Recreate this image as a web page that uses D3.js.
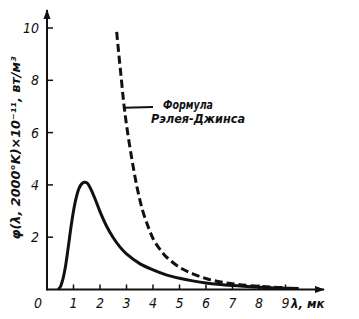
<!DOCTYPE html>
<html><head><meta charset="utf-8">
<script src="https://cdn.jsdelivr.net/npm/d3@7"></script>
<style>
html,body{margin:0;padding:0;background:#fff;}
text{font-family:"Liberation Sans Narrow","DejaVu Sans Condensed","Liberation Sans",sans-serif;font-style:italic;fill:#111;}
</style></head><body>
<script>
// Planck curve at 2000°K (solid)
const planckLambda = [0.42,0.5,0.6,0.7,0.8,0.9,1.0,1.1,1.2,1.3,1.4,1.5,1.6,1.8,2.0,2.25,2.5,2.75,3.0,3.5,4.0,4.5,5.0,5.5,6.0,7.0,8.0,9.0,9.5];
const planckValue  = [0,0.1,0.4,0.9,1.6,2.35,3.0,3.5,3.85,4.03,4.1,4.08,3.95,3.5,2.98,2.42,1.98,1.63,1.36,0.99,0.75,0.56,0.43,0.33,0.25,0.15,0.09,0.05,0.035];
// Rayleigh-Jeans formula (dashed)
const rjLambda = [2.63,2.7,2.8,2.9,3.0,3.2,3.4,3.6,3.8,4.0,4.25,4.5,5.0,5.5,6.0,6.5,7.0,7.5,8.0,8.5,9.0];
const rjValue  = [9.85,9.1,8.1,7.1,6.3,5.0,3.9,3.05,2.45,1.95,1.55,1.25,0.85,0.6,0.42,0.3,0.22,0.16,0.12,0.09,0.07];
const xTicks = [1,2,3,4,5,6,7,8,9];
const yTicks = [2,4,6,8,10];
const xTitle = "λ, мк";
const yTitle = "φ(λ, 2000°K)×10⁻¹¹, вт/м³";
const noteLines = ["Формула","Рэлея-Джинса"];

const W=359,H=319;
const svg=d3.select("body").append("svg").attr("width",W).attr("height",H);
const x=d3.scaleLinear().domain([0,10]).range([47,312]);
const y=d3.scaleLinear().domain([0,10]).range([289.5,28]);

// axes lines with arrows
svg.append("defs").append("marker").attr("id","arr").attr("viewBox","0 0 10 10")
  .attr("refX",9).attr("refY",5).attr("markerWidth",5).attr("markerHeight",5).attr("orient","auto")
  .append("path").attr("d","M0,1.5L10,5L0,8.5z").attr("fill","#111");
svg.append("line").attr("x1",x(0)).attr("y1",y(0)).attr("x2",324).attr("y2",y(0))
  .attr("stroke","#111").attr("stroke-width",2).attr("marker-end","url(#arr)");
svg.append("line").attr("x1",x(0)).attr("y1",y(0)+1).attr("x2",x(0)).attr("y2",10)
  .attr("stroke","#111").attr("stroke-width",2).attr("marker-end","url(#arr)");

// ticks
svg.selectAll(".xt").data(xTicks).enter().append("line")
  .attr("x1",d=>x(d)).attr("x2",d=>x(d)).attr("y1",y(0)).attr("y2",y(0)-5)
  .attr("stroke","#111").attr("stroke-width",1.5);
svg.selectAll(".yt").data(yTicks).enter().append("line")
  .attr("x1",x(0)).attr("x2",x(0)+6).attr("y1",d=>y(d)).attr("y2",d=>y(d))
  .attr("stroke","#111").attr("stroke-width",1.5);

// tick labels
svg.selectAll(".xl").data(xTicks).enter().append("text")
  .attr("x",d=>x(d)).attr("y",308).attr("text-anchor","middle")
  .attr("font-size",14).text(d=>d);
svg.append("text").attr("x",38).attr("y",308).attr("text-anchor","middle").attr("font-size",14).text("0");
svg.selectAll(".yl").data(yTicks).enter().append("text")
  .attr("x",39).attr("y",d=>y(d)+5).attr("text-anchor","end")
  .attr("font-size",14).text(d=>d);

// axis titles
svg.append("text").attr("x",291).attr("y",308).attr("font-size",13).attr("font-weight","bold").text(xTitle);
svg.append("text").attr("transform","translate(20,148) rotate(-90)").attr("text-anchor","middle")
  .attr("font-size",12).attr("font-weight","bold").attr("textLength",183).attr("lengthAdjust","spacingAndGlyphs").text(yTitle);

// curves
const line=d3.line().x(d=>x(d[0])).y(d=>y(d[1])).curve(d3.curveCatmullRom.alpha(0.5));
svg.append("path").datum(planckLambda.map((l,i)=>[l,planckValue[i]]))
  .attr("d",line).attr("fill","none").attr("stroke","#111").attr("stroke-width",3);
svg.append("path").datum(rjLambda.map((l,i)=>[l,rjValue[i]]))
  .attr("d",line).attr("fill","none").attr("stroke","#111").attr("stroke-width",3).attr("stroke-dasharray","8,4");

// annotation
svg.append("line").attr("x1",x(2.92)).attr("y1",y(6.95)).attr("x2",153).attr("y2",107)
  .attr("stroke","#111").attr("stroke-width",1.8);
svg.append("text").attr("x",163).attr("y",109).attr("font-size",12).attr("font-weight","bold")
  .attr("textLength",50).attr("lengthAdjust","spacingAndGlyphs").text(noteLines[0]);
svg.append("text").attr("x",151).attr("y",123).attr("font-size",12).attr("font-weight","bold")
  .attr("textLength",94).attr("lengthAdjust","spacingAndGlyphs").text(noteLines[1]);
</script>
</body></html>
